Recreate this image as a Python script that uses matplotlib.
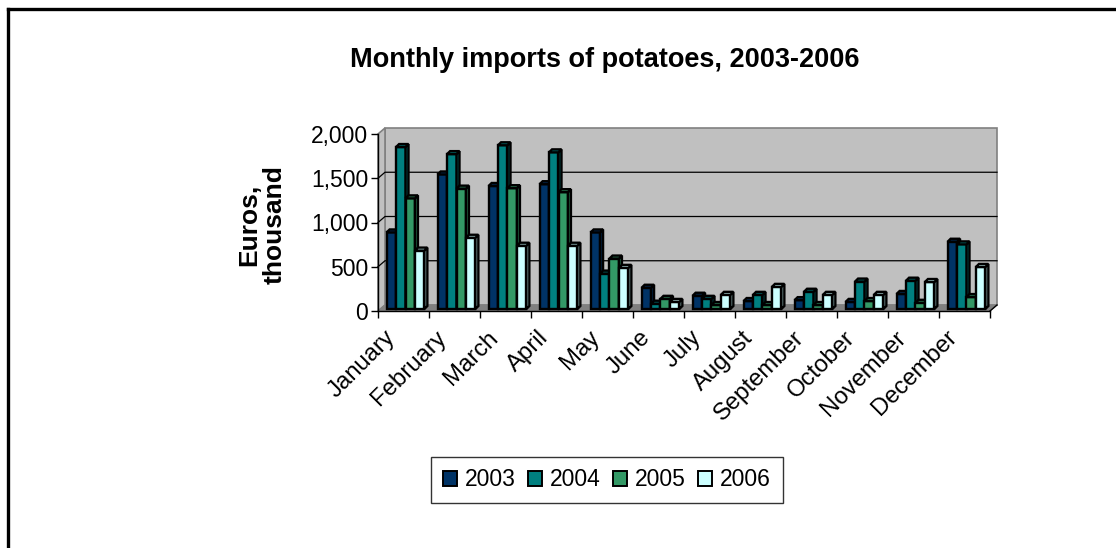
import numpy as np
import matplotlib
matplotlib.use("Agg")
import matplotlib.pyplot as plt
from matplotlib.patches import Polygon, Patch
from matplotlib.lines import Line2D
from matplotlib.colors import to_rgb
from matplotlib.transforms import ScaledTranslation

plt.rcParams['font.family'] = ['Liberation Sans', 'DejaVu Sans']

months = ["January", "February", "March", "April", "May", "June", "July",
          "August", "September", "October", "November", "December"]
years = ["2003", "2004", "2005", "2006"]
v2003 = [865, 1520, 1390, 1410, 865, 240, 150, 90, 100, 80, 170, 760]
v2004 = [1830, 1750, 1850, 1770, 400, 60, 115, 160, 195, 310, 320, 730]
v2005 = [1250, 1360, 1365, 1320, 570, 115, 45, 45, 45, 90, 70, 135]
v2006 = [660, 805, 715, 715, 465, 80, 160, 250, 160, 160, 305, 475]
series = [v2003, v2004, v2005, v2006]
colors = ["#003366", "#008080", "#339966", "#CCFFFF"]

W, H = 1116, 548
fig = plt.figure(figsize=(W / 100, H / 100), dpi=100)

# frame around the chart area (right and bottom fall outside the image)
fig.add_artist(Line2D([8 / W, 8 / W], [0, 1 - 9 / H], color="black", lw=2.4,
                      transform=fig.transFigure))
fig.add_artist(Line2D([8 / W, 1], [1 - 9 / H, 1 - 9 / H], color="black", lw=2.4,
                      transform=fig.transFigure))

ax_l, ax_r, ax_t, ax_b = 378, 990, 134, 311
ax = fig.add_axes([ax_l / W, 1 - ax_b / H, (ax_r - ax_l) / W, (ax_b - ax_t) / H])
n = len(months)
ymax = 2000
ax.set_xlim(0, n)
ax.set_ylim(0, ymax)
ax.patch.set_visible(False)

# pixel -> data units
px = n / (ax_r - ax_l)
py = ymax / (ax_b - ax_t)

# 3D depth of the walls
wdx, wdy = 7 * px, 6 * py
wall = Polygon([(wdx, wdy), (n + wdx, wdy), (n + wdx, ymax + wdy), (wdx, ymax + wdy)],
               closed=True, facecolor="#C0C0C0", edgecolor="#808080", lw=1.2,
               clip_on=False, zorder=0)
ax.add_patch(wall)
side = Polygon([(0, 0), (wdx, wdy), (wdx, ymax + wdy), (0, ymax)], closed=True,
               facecolor="#C0C0C0", edgecolor="#808080", lw=1.2, clip_on=False, zorder=0.5)
ax.add_patch(side)
floor = Polygon([(0, 0), (n, 0), (n + wdx, wdy), (wdx, wdy)], closed=True,
                facecolor="#808080", edgecolor="#808080", lw=0.8, clip_on=False, zorder=0.5)
ax.add_patch(floor)

for g in [500, 1000, 1500]:
    ax.plot([0, wdx, n + wdx], [g, g + wdy, g + wdy], color="black", lw=0.9,
            clip_on=False, zorder=0.8)

# bars with a little side and top face
bw = 0.185
bdx, bdy = 2 * px, 2 * py
ddx, ddy = 3 * px, 3 * py
z = 2
for i in range(n):
    for k, vals in enumerate(series):
        x0 = i + 0.5 - 2 * bw + k * bw + bdx
        v = vals[i]
        base = np.array(to_rgb(colors[k]))
        ax.bar(x0, v, width=bw, bottom=bdy, align="edge", color=colors[k],
               edgecolor="black", lw=1.7, zorder=z, clip_on=False)
        sidef = Polygon([(x0 + bw, bdy), (x0 + bw + ddx, bdy + ddy),
                         (x0 + bw + ddx, bdy + v + ddy), (x0 + bw, bdy + v)],
                        closed=True, facecolor=base * 0.7, edgecolor="black",
                        lw=1.7, zorder=z, clip_on=False)
        topf = Polygon([(x0, bdy + v), (x0 + bw, bdy + v),
                        (x0 + bw + ddx, bdy + v + ddy), (x0 + ddx, bdy + v + ddy)],
                       closed=True, facecolor=base * 0.85, edgecolor="black",
                       lw=1.7, zorder=z, clip_on=False)
        ax.add_patch(sidef)
        ax.add_patch(topf)
        z += 0.01

# axes
for s in ["top", "right"]:
    ax.spines[s].set_visible(False)
ax.spines["left"].set_linewidth(1.0)
ax.spines["bottom"].set_linewidth(1.0)
ax.plot([n, n + wdx], [0, wdy], color="black", lw=1.0, clip_on=False, zorder=3)

ax.set_yticks([0, 500, 1000, 1500, 2000])
ax.set_yticklabels(["0", "500", "1,000", "1,500", "2,000"])
ax.tick_params(axis="y", direction="out", length=5, width=1, labelsize=16.5, pad=2)

ax.set_xticks(np.arange(n + 1))
ax.set_xticklabels([])
ax.tick_params(axis="x", which="major", direction="out", length=5, width=1)
ax.set_xticks(np.arange(n) + 0.5, minor=True)
ax.set_xticklabels(months, minor=True, rotation=45, ha="right", va="top",
                   rotation_mode="anchor", fontsize=17.2)
ax.tick_params(axis="x", which="minor", length=0, pad=4)
shift = ScaledTranslation(-0.19, -0.10, fig.dpi_scale_trans)
for lbl in ax.get_xticklabels(minor=True):
    lbl.set_transform(lbl.get_transform() + shift)

fig.text(262 / W, 1 - 225 / H, "Euros,\nthousand", rotation=90, ha="center",
         va="center", fontsize=19, fontweight="bold", multialignment="center",
         linespacing=1.05)
fig.text(605 / W, 1 - 60 / H, "Monthly imports of potatoes, 2003-2006",
         ha="center", va="center", fontsize=19.5, fontweight="bold")

handles = [Patch(facecolor=c, edgecolor="black", lw=1.4) for c in colors]
leg = fig.legend(handles, years, loc="center", bbox_to_anchor=(607 / W, 1 - 480 / H),
                 ncol=4, frameon=True, fontsize=16.5, handlelength=0.6,
                 handleheight=0.6, handletextpad=0.35, columnspacing=0.55,
                 borderpad=0.5, fancybox=False)
leg.get_frame().set_edgecolor("black")
leg.get_frame().set_linewidth(1.0)

fig.savefig("out.png", dpi=100)
